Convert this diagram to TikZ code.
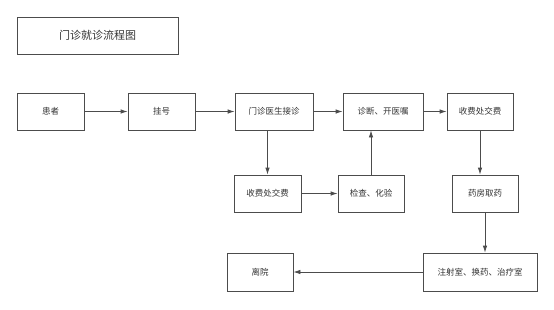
\documentclass[tikz,border=0pt]{standalone}
\usepackage{fontspec}
\newfontfamily\cjk{Noto Sans CJK SC}
\usetikzlibrary{arrows.meta}
\definecolor{linegray}{gray}{0.3}
\definecolor{textgray}{gray}{0.2}

\begin{document}
\begin{tikzpicture}[x=1pt,y=-1pt,
    box/.style={draw=linegray, line width=0.8pt, minimum height=37pt, inner sep=0pt,
        font=\cjk\fontsize{8.5}{10}\selectfont, text=textgray},
    flow/.style={draw=linegray, line width=0.8pt, -{Latex[length=7pt,width=4.5pt]}}]
        % Canvas
        \fill[white] (0,0) rectangle (554,309);
        \useasboundingbox (0,0) rectangle (554,309);

        % Title
        \node[box, minimum width=161pt, font=\cjk\fontsize{11}{13}\selectfont] (title) at (97.5,35.5) {门诊就诊流程图};

        % Top row
        \node[box, minimum width=67pt] (patient) at (50.5,111.5) {患者};
        \node[box, minimum width=67pt] (register) at (161.5,111.5) {挂号};
        \node[box, minimum width=78pt] (doctor) at (274,111.5) {门诊医生接诊};
        \node[box, minimum width=80pt] (diag) at (383,111.5) {诊断、开医嘱};
        \node[box, minimum width=66pt] (payA) at (480,111.5) {收费处交费};

        % Middle row
        \node[box, minimum width=67pt] (payB) at (267.5,193.5) {收费处交费};
        \node[box, minimum width=66pt] (exam) at (371,193.5) {检查、化验};
        \node[box, minimum width=66pt] (pharmacy) at (485,193.5) {药房取药};

        % Bottom row
        \node[box, minimum width=114pt, minimum height=38pt] (treat) at (480,272) {注射室、换药、治疗室};
        \node[box, minimum width=66pt, minimum height=38pt] (leave) at (260,272) {离院};

        % Draw arrows
        \draw[flow] (patient) -- (register);
        \draw[flow] (register) -- (doctor);
        \draw[flow] (doctor) -- (diag);
        \draw[flow] (diag) -- (payA);
        \draw[flow] (doctor.south -| payB) -- (payB.north);
        \draw[flow] (payB) -- (exam);
        \draw[flow] (exam.north) -- (exam.north |- diag.south);
        \draw[flow] (payA.south) -- (payA.south |- pharmacy.north);
        \draw[flow] (pharmacy.south) -- (pharmacy.south |- treat.north);
        \draw[flow] (treat) -- (leave);
\end{tikzpicture}
\end{document}
